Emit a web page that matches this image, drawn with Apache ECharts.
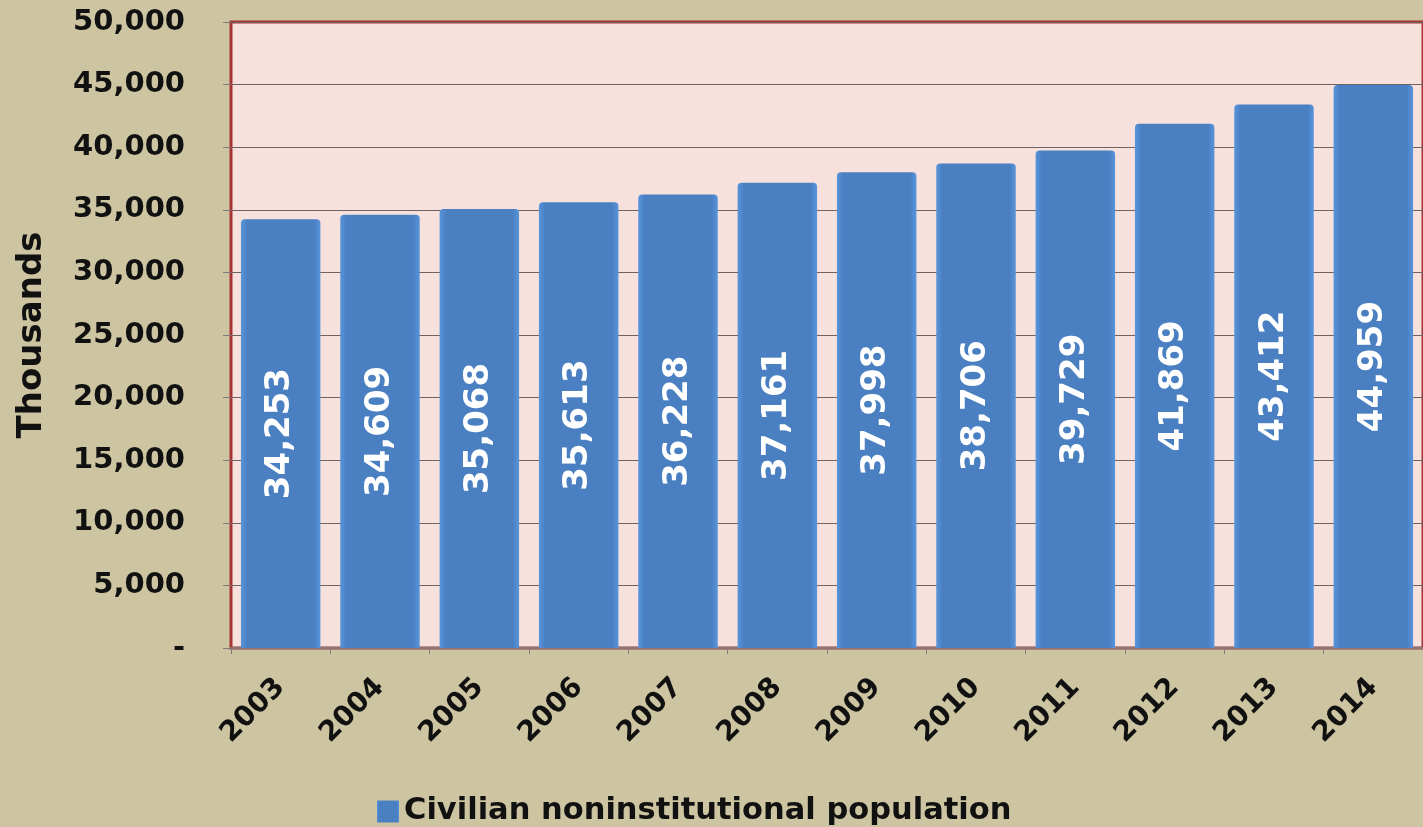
<!DOCTYPE html>
<html>
<head>
<meta charset="utf-8">
<script src="https://cdn.jsdelivr.net/npm/echarts@6/dist/echarts.min.js"></script>
<style>
    html, body { margin: 0; padding: 0; background: #cdc5a1; }
    #chart { width: 1423px; height: 827px; }
</style>
</head>
<body>
<div id="chart"></div>
<script>
// Data
const years = ['2003', '2004', '2005', '2006', '2007', '2008', '2009', '2010', '2011', '2012', '2013', '2014'];
const population = [34253, 34609, 35068, 35613, 36228, 37161, 37998, 38706, 39729, 41869, 43412, 44959];
const seriesName = 'Civilian noninstitutional population';
const yAxisName = 'Thousands';

const fmt = v => v === 0 ? '-' : v.toLocaleString('en-US');
const font = '"DejaVu Sans", Verdana, sans-serif';

const chart = echarts.init(document.getElementById('chart'));
chart.setOption({
    backgroundColor: '#cdc5a1',
    textStyle: { fontFamily: font },
    grid: {
        left: 231, top: 22, width: 1195, height: 626,
        show: true, backgroundColor: '#f7e1dd', borderColor: '#a83434', borderWidth: 3
    },
    legend: {
        data: [seriesName],
        left: 372, top: 791,
        itemWidth: 22, itemHeight: 22, itemGap: 6,
        icon: 'rect',
        textStyle: { fontSize: 30.5, fontWeight: 'bold', color: '#111', fontFamily: font }
    },
    xAxis: {
        type: 'category',
        data: years,
        axisLine: { lineStyle: { color: '#857878', width: 2 } },
        axisTick: { show: true, length: 6, lineStyle: { color: '#857878' } },
        axisLabel: { rotate: 45, margin: 35, fontSize: 28, fontWeight: 'bold', color: '#111', fontFamily: font }
    },
    yAxis: {
        type: 'value',
        min: 0, max: 50000, interval: 5000,
        name: yAxisName,
        nameLocation: 'middle',
        nameGap: 182,
        nameRotate: 90,
        nameTextStyle: { fontSize: 34, fontWeight: 'bold', color: '#111', fontFamily: font },
        axisLine: { show: false },
        axisTick: { show: true, length: 8, lineStyle: { color: '#857878' } },
        axisLabel: { formatter: fmt, margin: 46, fontSize: 29, fontWeight: 'bold', color: '#111', fontFamily: font },
        splitLine: { lineStyle: { color: '#6e6262', width: 1 } }
    },
    series: [{
        name: seriesName,
        type: 'bar',
        data: population,
        barCategoryGap: '20%',
        itemStyle: {
            color: new echarts.graphic.LinearGradient(0, 0, 1, 0, [
                { offset: 0, color: '#5894dc' },
                { offset: 0.08, color: '#4a80c2' },
                { offset: 0.92, color: '#4a80c2' },
                { offset: 1, color: '#5894dc' }
            ]),
            borderRadius: [4, 4, 0, 0]
        },
        label: {
            show: true,
            position: 'inside',
            rotate: 90,
            formatter: p => fmt(p.value),
            color: '#ffffff',
            fontSize: 34,
            fontWeight: 'bold',
            fontFamily: font
        }
    }]
});
</script>
</body>
</html>
